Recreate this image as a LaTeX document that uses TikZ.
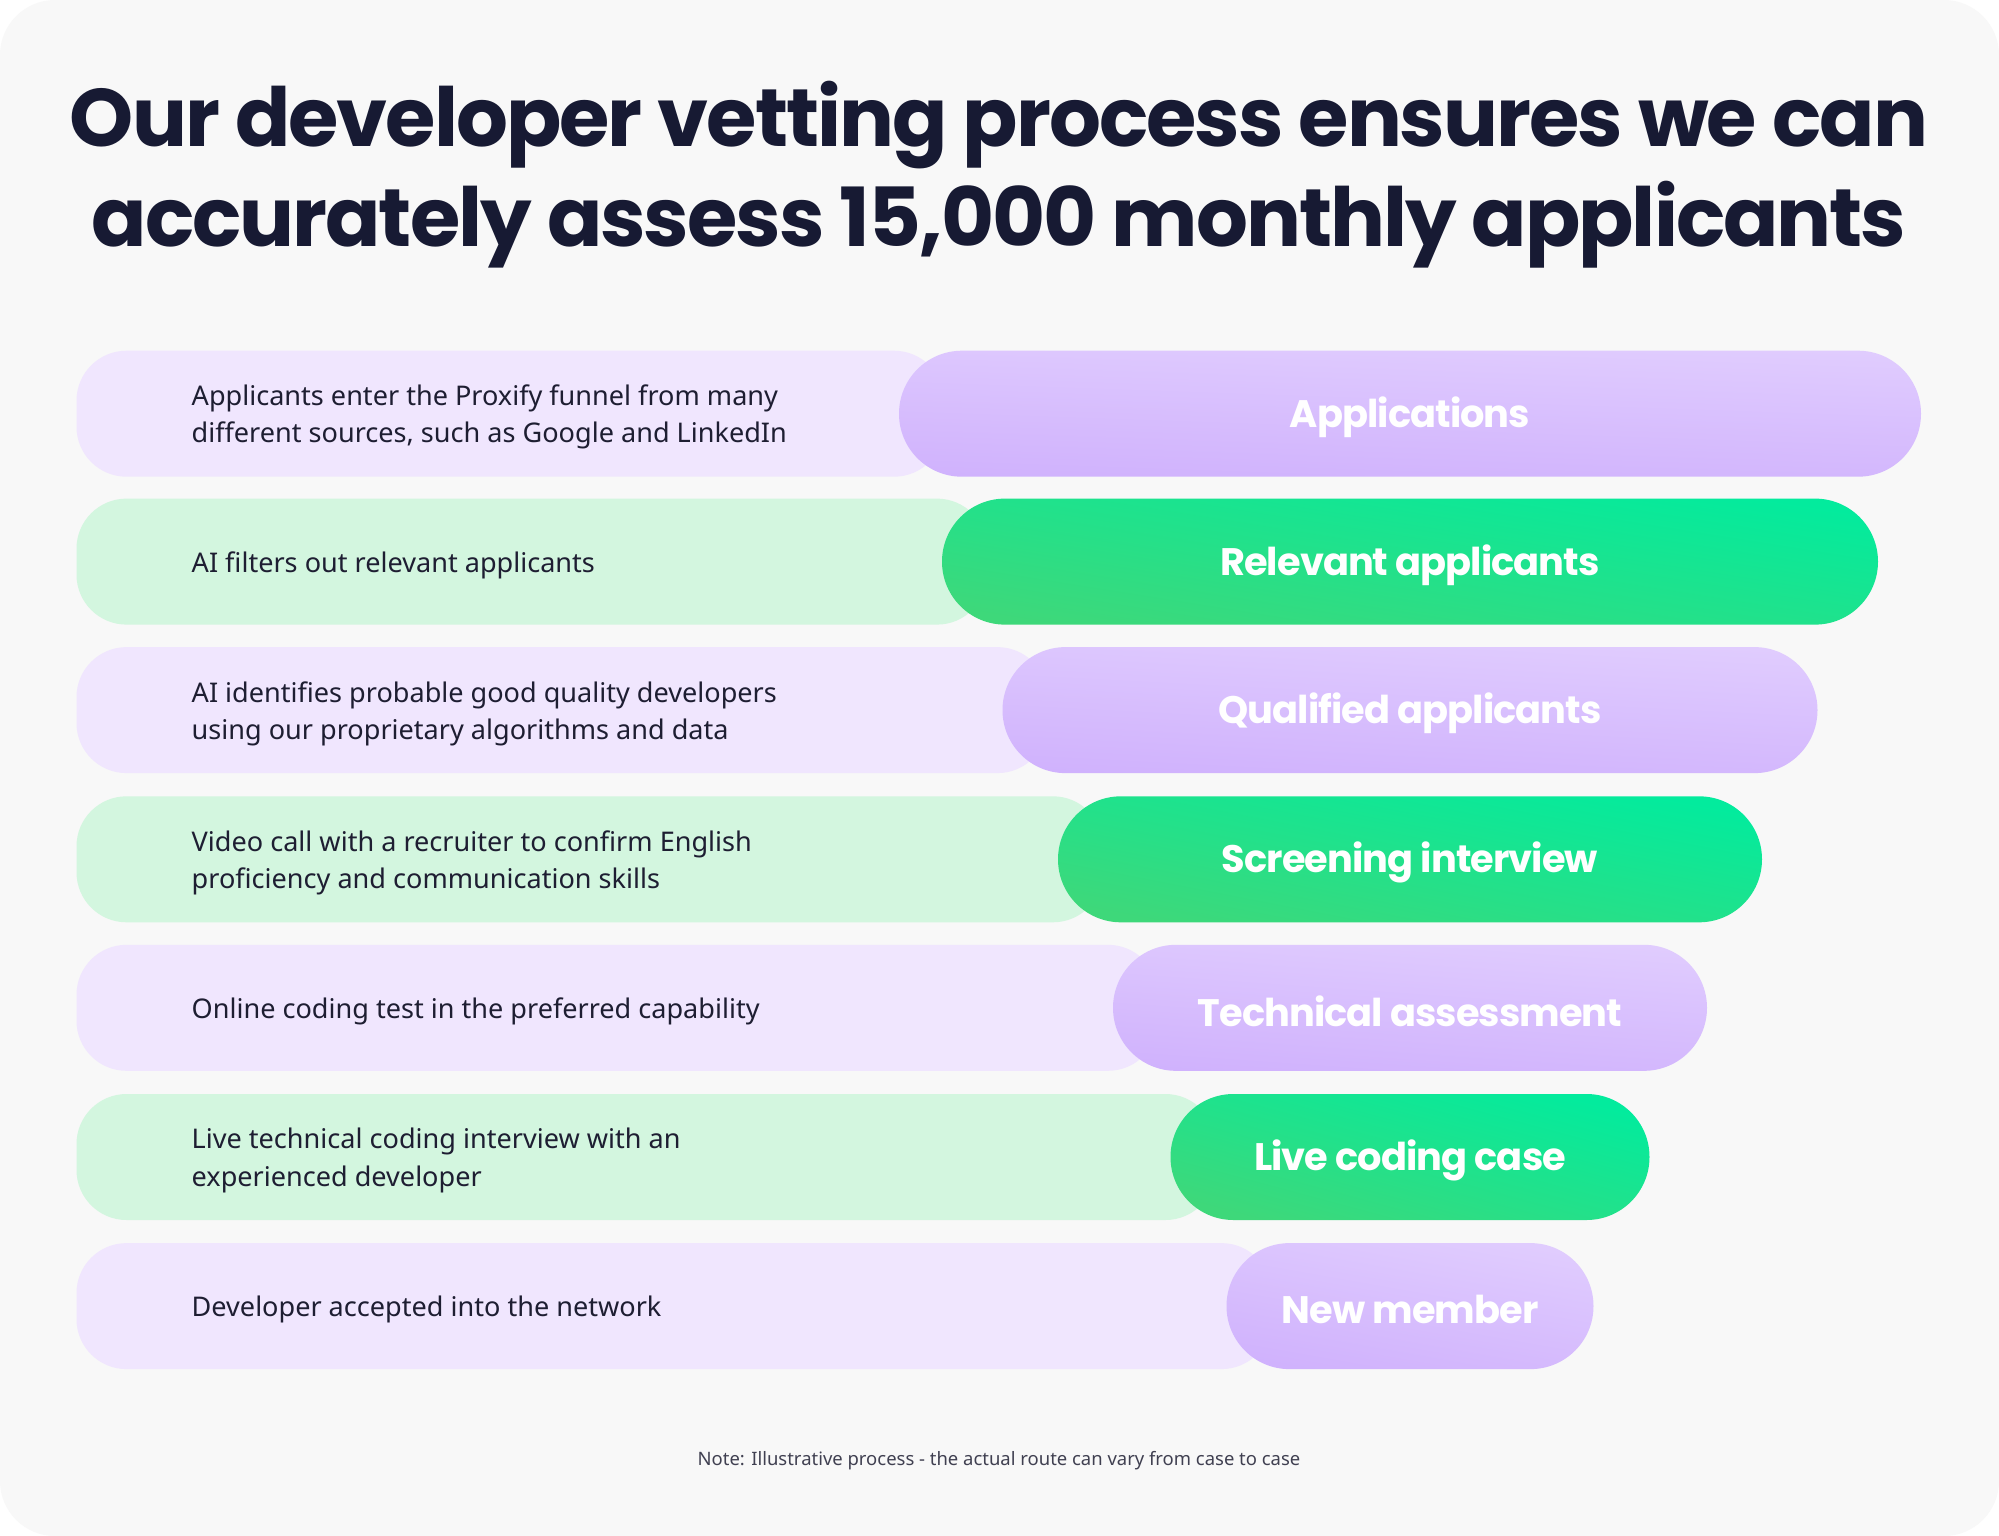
\documentclass[tikz,border=0pt]{standalone}
\usepackage{fontspec}
\setmainfont{Noto Sans}
\newfontfamily\headfont{Poppins}[LetterSpace=-2.5]
\usepackage{tikz}
\usetikzlibrary{positioning}
\definecolor{cardgray}{RGB}{248,248,248}
\definecolor{inkblue}{RGB}{23,26,51}
\definecolor{bodyink}{RGB}{30,30,50}
\definecolor{lilac}{RGB}{240,230,254}
\definecolor{mint}{RGB}{211,246,223}
\definecolor{lilactop}{RGB}{224,204,254}
\definecolor{lilacbot}{RGB}{208,178,253}
\definecolor{greentop}{RGB}{3,235,157}
\definecolor{greenbot}{RGB}{62,216,122}
\tikzset{
  pilltext/.style={text=white,yshift=-1pt,font=\headfont\bfseries\fontsize{10.9}{12}\selectfont},
  desctext/.style={anchor=west,align=left,inner sep=0pt,yshift=-1pt,text=bodyink,font=\fontsize{7.7}{10.6}\selectfont},
}

\begin{document}
\begin{tikzpicture}[x=0.01cm,y=-0.01cm]
  \useasboundingbox (0,0) rectangle (1999,1536);
  \fill[white] (0,0) rectangle (1999,1536);
  \fill[cardgray,rounded corners=0.55cm] (0,0) rectangle (1999,1536);
  \node[font=\headfont\bfseries\fontsize{23.2}{28.5}\selectfont,text=inkblue,align=center]
    (title) at (999,175) {Our developer vetting process ensures we can\\accurately assess 15,000 monthly applicants};
  % funnel rows: light bar behind, gradient pill in front
  \foreach \y/\w/\bar/\top/\bot/\ang/\label/\desc [count=\i] in {
      413.7/1022/lilac/lilactop/lilacbot/-2/Applications/{Applicants enter the Proxify funnel from many\\different sources, such as Google and LinkedIn},
      561.6/936/mint/greentop/greenbot/-9/Relevant applicants/{AI filters out relevant applicants},
      710.1/815/lilac/lilactop/lilacbot/-3/Qualified applicants/{AI identifies probable good quality developers\\using our proprietary algorithms and data},
      859.3/704/mint/greentop/greenbot/-11/Screening interview/{Video call with a recruiter to confirm English\\proficiency and communication skills},
      1007.8/594/lilac/lilactop/lilacbot/-4/Technical assessment/{Online coding test in the preferred capability},
      1157/479/mint/greentop/greenbot/-15/Live coding case/{Live technical coding interview with an\\experienced developer},
      1306.1/367/lilac/lilactop/lilacbot/-10/New member/{Developer accepted into the network}} {
    \fill[\bar,rounded corners=0.5cm] (76.5,\y-63) rectangle (1410-\w/2+45,\y+63);
    \shade[top color=\top,bottom color=\bot,shading angle=\ang,rounded corners=0.629cm]
      (1410-\w/2,\y-63) rectangle (1410+\w/2,\y+63);
    \node[pilltext] (stage\i) at (1410,\y) {\label};
    \node[desctext] (desc\i) at (191,\y) {\desc};
  }
  \node[text=bodyink!85,font=\fontsize{5.25}{6}\selectfont] (footnote) at (999,1461)
    {Note: Illustrative process - the actual route can vary from case to case};
\end{tikzpicture}
\end{document}
